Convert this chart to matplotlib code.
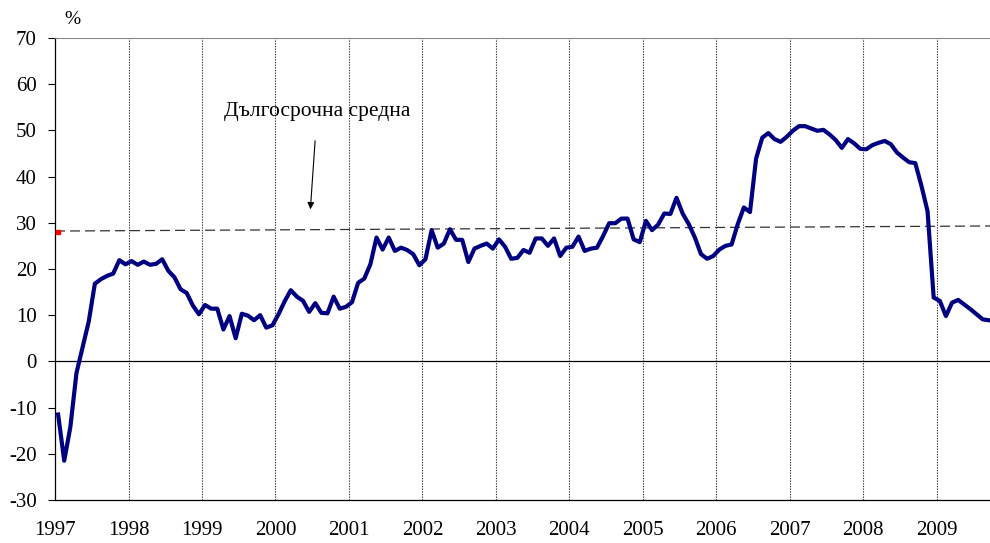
import numpy as np
import matplotlib

matplotlib.use("Agg")
import matplotlib.pyplot as plt

plt.rcParams["font.family"] = ["Liberation Serif", "DejaVu Serif"]
plt.rcParams["axes.unicode_minus"] = False

# monthly values, %, Jan 1997 - Sep 2009
y1997 = [-11.5, -21.5, -14.2, -2.5, 3.0, 8.6, 16.8, 17.8, 18.5, 19.0, 21.9, 21.0]
y1998 = [21.7, 20.9, 21.6, 20.9, 21.1, 22.1, 19.6, 18.2, 15.6, 14.8, 12.1, 10.2]
y1999 = [12.2, 11.4, 11.4, 6.9, 9.8, 5.0, 10.3, 9.9, 8.9, 10.0, 7.3, 7.8]
y2000 = [10.2, 13.0, 15.4, 14.0, 13.1, 10.7, 12.6, 10.5, 10.4, 14.0, 11.4, 11.8]
y2001 = [12.8, 17.0, 17.9, 21.0, 26.8, 24.2, 26.8, 23.9, 24.6, 24.1, 23.2, 20.8]
y2002 = [22.1, 28.4, 24.6, 25.5, 28.6, 26.3, 26.3, 21.5, 24.4, 25.0, 25.5, 24.4]
y2003 = [26.4, 24.8, 22.2, 22.4, 24.1, 23.5, 26.6, 26.6, 25.0, 26.6, 22.8, 24.6]
y2004 = [24.8, 27.0, 23.9, 24.4, 24.6, 27.1, 29.9, 29.9, 30.9, 30.9, 26.4, 25.8]
y2005 = [30.4, 28.4, 29.6, 32.0, 31.9, 35.4, 32.0, 29.7, 26.8, 23.2, 22.2, 22.8]
y2006 = [24.2, 25.0, 25.3, 29.7, 33.3, 32.3, 43.9, 48.4, 49.4, 48.1, 47.5, 48.6]
y2007 = [49.9, 50.9, 50.9, 50.4, 49.9, 50.1, 49.1, 47.9, 46.2, 48.1, 47.2, 46.0]
y2008 = [45.9, 46.8, 47.3, 47.7, 47.0, 45.2, 44.1, 43.1, 42.9, 38.0, 32.5, 13.8]
y2009 = [13.1, 9.8, 12.7, 13.3, 12.3, 11.3, 10.2, 9.1, 8.9]

years = list(range(1997, 2010))
long_avg = [28.2, 29.3]   # long-term average, start and end of the period
first_mark = 27.9         # red marker at the first month

series = np.array(y1997 + y1998 + y1999 + y2000 + y2001 + y2002 + y2003
                  + y2004 + y2005 + y2006 + y2007 + y2008 + y2009)
x = np.arange(len(series)) + 0.5
year_pos = [12 * (yr - years[0]) for yr in years]

fig = plt.figure(figsize=(9.9, 5.43), dpi=100)
ax = fig.add_axes([0.0556, 0.0792, 0.9444, 0.851])

for p in year_pos[1:]:
    ax.axvline(p, color="#333333", linestyle=(0, (1.2, 1.2)), linewidth=0.8, zorder=1)
ax.axhline(0, color="black", linewidth=0.9, zorder=1)
ax.plot([0, len(series)], long_avg, color="#333333", linestyle=(0, (8, 4)),
        linewidth=0.9, zorder=2)
ax.plot(x, series, color="#000080", linewidth=3.0, solid_joinstyle="round", zorder=3)
ax.plot([x[0]], [first_mark], marker="s", color="red", markersize=3.5,
        linestyle="none", zorder=4)

ax.annotate("Дългосрочна средна", xy=(41.7, 32.9), xytext=(42.8, 54.0),
            ha="center", va="center", fontsize=15.5,
            arrowprops=dict(arrowstyle="-|>", color="black", lw=0.8,
                            mutation_scale=10, shrinkA=12, shrinkB=0))

ax.set_xlim(0, len(series) - 0.3)
ax.set_ylim(-30, 70)
ax.set_yticks(range(-30, 71, 10))
ax.set_xticks(year_pos)
ax.set_xticklabels([str(yr) for yr in years])
ax.tick_params(axis="y", direction="out", length=5, width=0.8, labelsize=15, pad=8)
ax.tick_params(axis="x", length=0, labelsize=15, pad=15)
ax.spines["right"].set_visible(False)
ax.spines["top"].set_color("#888888")
for s in ("left", "bottom"):
    ax.spines[s].set_linewidth(0.9)
fig.text(0.073, 0.965, "%", ha="center", va="center", fontsize=14)

fig.savefig("out.png", dpi=100)
plt.close(fig)
